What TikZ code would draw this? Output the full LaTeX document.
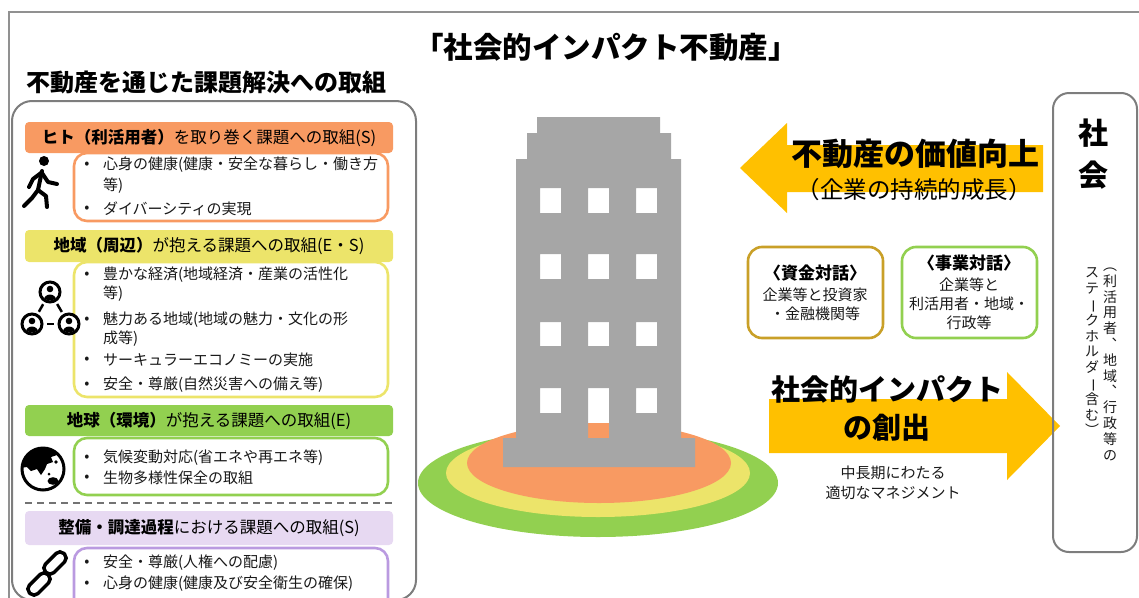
\documentclass[tikz,border=0pt]{standalone}
\usepackage{fontspec}
\setmainfont{Noto Sans CJK JP}
\usetikzlibrary{calc}

\definecolor{hitoOrange}{RGB}{248,154,98}
\definecolor{chiikiYellow}{RGB}{236,228,106}
\definecolor{chikyuGreen}{RGB}{146,208,80}
\definecolor{seibiLav}{RGB}{231,217,242}
\definecolor{seibiPurple}{RGB}{186,154,224}
\definecolor{arrowGold}{RGB}{255,192,0}
\definecolor{fundGold}{RGB}{201,160,40}
\definecolor{bldGray}{RGB}{166,166,166}
\definecolor{frameGray}{RGB}{125,125,125}

\newcommand\sz[1]{\fontsize{#1}{#1}\selectfont}

\begin{document}
\begin{tikzpicture}[x=1pt,y=-1pt,
  every node/.style={inner sep=0pt, outer sep=0pt},
  hdrbox/.style={fill=#1, rounded corners=4pt, minimum width=368pt, font=\sz{16.5}},
  itembox/.style={draw=#1, line width=2.6pt, rounded corners=13pt, minimum width=314pt, fill=white},
  bul/.style={font=\sz{15}, text=black!90},
  itm/.style={anchor=west, font=\sz{15}, text=black!90},
  talkbox/.style={draw=#1, line width=2.6pt, rounded corners=14pt, minimum width=135pt, minimum height=91pt},
  talktitle/.style={font=\bfseries\sz{17}},
  talkline/.style={font=\sz{15}, text=black!90},
  bigarrow/.style={fill=arrowGold},
  iconline/.style={line width=4pt, line cap=round, line join=round},
  personicon/.style={circle, draw=black, line width=3pt, fill=white, minimum size=20pt},
  chainlink/.style={draw=black, line width=3.5pt, rounded corners=5.5pt, minimum width=26pt, minimum height=12pt, rotate=45},
  pics/bust/.style={code={
    \fill (0,-3) circle (3.3);
    \begin{scope}
      \clip (0,0) circle (8.5);
      \fill (0,8.5) ellipse [x radius=6.3, y radius=6];
    \end{scope}}}
]
\useasboundingbox (0,0) rectangle (1139,597);
\clip (0,0) rectangle (1139,597);

% outer frame
\draw[frameGray!85, line width=1.5pt] (9,12) rectangle (1160,640);

% titles
\node[font=\bfseries\sz{29.5}] (title) at (606,47) {「社会的インパクト不動産」};
\node[font=\bfseries\sz{24}] (subtitle) at (206,82) {不動産を通じた課題解決への取組};

% left panel
\draw[frameGray, line width=2pt, rounded corners=20pt] (12,101) rectangle (416,600);

% ---- section 1: people
\node[hdrbox=hitoOrange, minimum height=31pt] (h1) at (209,137.5) {\textbf{ヒト（利活用者）}を取り巻く課題への取組(S)};
\node[itembox=hitoOrange, minimum height=68pt] (box1) at (231,187) {};
\node[bul] (b11) at (87,165) {•};
\node[itm] (t11) at (103,165) {心身の健康(健康・安全な暮らし・働き方};
\node[itm] (t12) at (103,186) {等)};
\node[bul] (b12) at (87,209) {•};
\node[itm] (t13) at (103,209) {ダイバーシティの実現};
% walking figure
\fill (44,161) circle (5);
\draw[iconline] (42,171) -- (38,190);
\draw[iconline] (41,173) -- (33,179) -- (29,187);
\draw[iconline] (42,173) -- (48,182) -- (57,184);
\draw[iconline] (38,190) -- (32,198) -- (24,206);
\draw[iconline] (38,190) -- (46,196) -- (47,207);

% ---- section 2: region
\node[hdrbox=chiikiYellow, minimum height=32pt] (h2) at (209,246) {\textbf{地域（周辺）}が抱える課題への取組(E・S)};
\node[itembox=chiikiYellow, minimum height=135pt] (box2) at (231,329.5) {};
\node[bul] (b21) at (87,275) {•};
\node[itm] (t21) at (103,275) {豊かな経済(地域経済・産業の活性化};
\node[itm] (t22) at (103,294) {等)};
\node[bul] (b22) at (87,320) {•};
\node[itm] (t23) at (103,320) {魅力ある地域(地域の魅力・文化の形};
\node[itm] (t24) at (103,339) {成等)};
\node[bul] (b23) at (87,360) {•};
\node[itm] (t25) at (103,360) {サーキュラーエコノミーの実施};
\node[bul] (b24) at (87,385) {•};
\node[itm] (t26) at (103,385) {安全・尊厳(自然災害への備え等)};
% community icon
\node[personicon] (p1) at (50,292) {};
\node[personicon] (p2) at (32,324) {};
\node[personicon] (p3) at (69,324) {};
\pic at (p1) {bust};
\pic at (p2) {bust};
\pic at (p3) {bust};
\draw[line width=2.5pt, shorten <=4pt, shorten >=4pt] (p1) -- (p2);
\draw[line width=2.5pt, shorten <=4pt, shorten >=4pt] (p1) -- (p3);
\draw[line width=2.5pt, shorten <=5pt, shorten >=5pt] (p2) -- (p3);

% ---- section 3: planet
\node[hdrbox=chikyuGreen, minimum height=31pt] (h3) at (209,420.5) {\textbf{地球（環境）}が抱える課題への取組(E)};
\node[itembox=chikyuGreen, minimum height=57pt] (box3) at (231,466.5) {};
\node[bul] (b31) at (87,458) {•};
\node[itm] (t31) at (103,458) {気候変動対応(省エネや再エネ等)};
\node[bul] (b32) at (87,478) {•};
\node[itm] (t32) at (103,478) {生物多様性保全の取組};
% globe
\begin{scope}
  \clip (43,469) circle (21);
  \fill (22,446) -- (58,446) -- (57,455) -- (51,457) -- (53,462) -- (47,464) -- (45,469)
        -- (41,475) -- (37,469) -- (31,471) -- (27,467) -- (20,468) -- cycle;
  \fill (53,481) ellipse [x radius=5.5, y radius=3.8];
  \fill (56,462) circle (1.8);
  \fill (49,474) circle (1.5);
\end{scope}
\draw[line width=3pt] (43,469) circle (21);

% separator
\coordinate (sepL) at (25,503);
\coordinate (sepR) at (393,503);
\draw[black!55, line width=1.6pt, dash pattern=on 7pt off 5pt] (sepL) -- (sepR);

% ---- section 4: supply chain
\node[hdrbox=seibiLav, minimum height=34pt] (h4) at (209,528) {\textbf{整備・調達過程}における課題への取組(S)};
\node[itembox=seibiPurple, minimum height=66pt] (box4) at (231,581) {};
\node[bul] (b41) at (87,563) {•};
\node[itm] (t41) at (103,563) {安全・尊厳(人権への配慮)};
\node[bul] (b42) at (87,584) {•};
\node[itm] (t42) at (103,584) {心身の健康(健康及び安全衛生の確保)};
% chain icon
\node[chainlink] (ln1) at (55,563) {};
\node[chainlink] (ln2) at (39,584) {};

% ---- building on layered ground
\fill[chikyuGreen] (598,483) ellipse [x radius=180, y radius=54];
\fill[chiikiYellow] (598,473) ellipse [x radius=152, y radius=44];
\fill[hitoOrange] (599,463) ellipse [x radius=132, y radius=40];
\fill[bldGray, even odd rule]
  (537,117) -- (660,117) -- (660,133) -- (671,133) -- (671,159) -- (681,159)
  -- (681,438) -- (695,438) -- (695,467) -- (503,467) -- (503,438) -- (516,438)
  -- (516,159) -- (527,159) -- (527,133) -- (537,133) -- cycle
  (540,188) rectangle (561,213) (588,188) rectangle (609,213) (636,188) rectangle (657,213)
  (540,254) rectangle (561,279) (588,254) rectangle (609,279) (636,254) rectangle (657,279)
  (540,322) rectangle (561,346) (588,322) rectangle (609,346) (636,322) rectangle (657,346)
  (540,388) rectangle (561,413) (588,388) rectangle (609,438) (636,388) rectangle (657,413);

% ---- value arrow (towards the building)
\fill[bigarrow] (740,168) -- (787,123) -- (787,145) -- (1043,145) -- (1043,192)
  -- (787,192) -- (787,213) -- cycle;
\node[font=\bfseries\sz{31}] (value) at (915,154) {不動産の価値向上};
\node[font=\sz{23.5}] (growth) at (914,190) {（企業の持続的成長）};

% ---- dialogues
\node[talkbox=fundGold] (fund) at (815.5,292.5) {};
\node[talktitle] (fundT) at (815,273) {〈資金対話〉};
\node[talkline] (fund1) at (815,295) {企業等と投資家};
\node[talkline] (fund2) at (815,314) {・金融機関等};
\node[talkbox=chikyuGreen] (biz) at (969.5,292.5) {};
\node[talktitle] (bizT) at (969,263) {〈事業対話〉};
\node[talkline] (biz1) at (969,285) {企業等と};
\node[talkline] (biz2) at (969,304) {利活用者・地域・};
\node[talkline] (biz3) at (969,323) {行政等};

% ---- impact arrow (towards society)
\fill[bigarrow] (769,399) -- (1007,399) -- (1007,372) -- (1060,426) -- (1007,480)
  -- (1007,453) -- (769,453) -- cycle;
\node[font=\bfseries\sz{29}] (impact1) at (887,389) {社会的インパクト};
\node[font=\bfseries\sz{29}] (impact2) at (887,428) {の創出};
\node[talkline] (mgmt1) at (893,473) {中長期にわたる};
\node[talkline] (mgmt2) at (893,493) {適切なマネジメント};

% ---- society
\node[draw=frameGray, line width=2pt, rounded corners=16pt, minimum width=84pt, minimum height=459pt] (society) at (1095,322.5) {};
\node[font=\bfseries\sz{30}] (soc1) at (1093,133) {社};
\node[font=\bfseries\sz{30}] (soc2) at (1093,175) {会};
\node[anchor=north, align=center, font=\fontsize{14}{15.8}\selectfont, text=black!90] (socR) at (1110,268)
  {︵\\利\\活\\用\\者\\︑\\地\\域\\︑\\行\\政\\等\\の};
\node[anchor=north, align=center, font=\fontsize{14}{15.8}\selectfont, text=black!90] (socL) at (1092,268)
  {ス\\テ\\\rotatebox[origin=c]{-90}{ー}\\ク\\ホ\\ル\\ダ\\\rotatebox[origin=c]{-90}{ー}\\含\\む\\︶};
\end{tikzpicture}
\end{document}
